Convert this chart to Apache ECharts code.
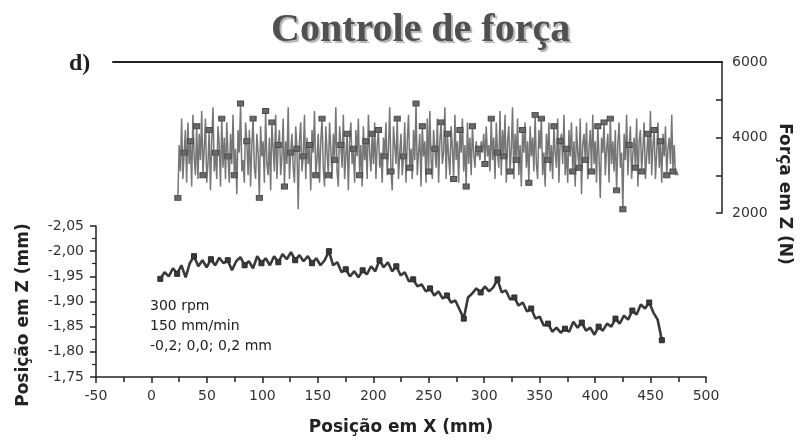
<!DOCTYPE html>
<html>
<head>
<meta charset="utf-8">
<script src="https://cdn.jsdelivr.net/npm/echarts/dist/echarts.min.js"></script>
<style>
  html, body { margin: 0; padding: 0; background: #fff; }
  #main { width: 808px; height: 440px; }
</style>
</head>
<body>
<div id="main"></div>
<script>
// 力 (N) —— 上图，按位置等间距采样
const forceStartX = 23;
const forceStepX = 1.132;
const forceValues = [
  2400, 3800, 3100, 4500, 2900, 3600, 4200, 2800, 4400, 3300, 3900, 2700, 4600, 3500, 3000, 4300, 2900, 4100, 3400, 4700,
  3000, 3700, 4500, 2800, 3300, 4200, 2600, 3900, 4800, 3100, 3600, 2900, 4300, 3800, 2700, 4500, 3200, 4000, 2900, 4400,
  3500, 2800, 4100, 3300, 4600, 3000, 3700, 2500, 4200, 3600, 4900, 3100, 3400, 2800, 4400, 3900, 3000, 4200, 2700, 3800,
  4500, 3200, 2900, 4100, 3600, 2400, 4300, 3500, 3900, 2800, 4700, 3300, 3000, 4000, 2600, 4400, 3700, 3100, 4600, 2900,
  3800, 4200, 3000, 3500, 4500, 2700, 3900, 3300, 4800, 2900, 3600, 4100, 3200, 2800, 4300, 3700, 2100, 3900, 4400, 3100,
  3500, 4600, 2900, 4000, 3300, 3800, 2600, 4200, 3600, 4700, 3000, 3400, 4100, 2800, 3900, 4500, 3200, 2700, 4300, 3600,
  3000, 4400, 3700, 2900, 4100, 3400, 4800, 3100, 2700, 4300, 3800, 3200, 4600, 2900, 3500, 4100, 2600, 3900, 4400, 3300,
  3700, 2800, 4200, 3500, 4500, 3000, 3800, 2700, 4300, 3400, 3900, 2900, 4600, 3600, 3100, 4100, 3300, 4400, 2900, 3800,
  4200, 3200, 3600, 2800, 4000, 3500, 4400, 3000, 3700, 4800, 3100, 2600, 4300, 3800, 3300, 4500, 2900, 3600, 4100, 3000,
  3500, 4400, 2800, 3900, 4600, 3200, 3700, 2900, 4200, 3400, 4900, 3000, 3600, 4100, 2700, 4300, 3500, 3900, 2800, 4500,
  3100, 4700, 3400, 2900, 4200, 3700, 3200, 4500, 2800, 3900, 4400, 3300, 3600, 4800, 2900, 4100, 3500, 3000, 4300, 3700,
  2900, 4600, 3400, 3900, 2800, 4200, 3600, 4500, 3100, 3800, 2700, 4400, 3300, 4000, 3000, 4300, 3600, 3200, 3900, 3500,
  3700, 3400, 3900, 3600, 4100, 3300, 4300, 3500, 3800, 3100, 4500, 3400, 4000, 2900, 4400, 3600, 3200, 4700, 3000, 4200,
  3500, 4600, 2800, 3900, 4300, 3100, 3700, 4800, 2900, 4100, 3400, 4500, 3000, 3800, 2700, 4200, 3600, 4400, 3200, 3900,
  2800, 4300, 3500, 4000, 3100, 4600, 3300, 2900, 4200, 3700, 4500, 3000, 3600, 2700, 4100, 3400, 4400, 3100, 3800, 2900,
  4300, 3600, 3200, 4500, 2800, 3900, 4100, 3300, 4600, 3000, 3700, 2800, 4200, 3500, 4400, 3100, 3900, 2700, 4300, 3600,
  3200, 4500, 2500, 3800, 4100, 3400, 4400, 2900, 3700, 4200, 3100, 4600, 3300, 3900, 2800, 4300, 3500, 2400, 4000, 3600,
  4400, 3000, 3700, 4100, 2800, 4500, 3300, 3900, 3100, 4200, 2600, 3800, 4400, 3200, 3600, 2100, 4100, 3400, 4600, 3000,
  3800, 4300, 2900, 3600, 4000, 3200, 4500, 2700, 3900, 4200, 3100, 3700, 4400, 2900, 3500, 4100, 3300, 4700, 3000, 3800,
  4200, 2900, 3600, 4400, 3200, 3900, 2800, 4100, 3500, 4300, 3000, 3700, 4000, 3300, 4600, 3100, 3800, 3000, 3100, 3000
];

// Z 位置 (mm) —— 下图
const posStartX = 8;
const posStepX = 3.8;
const posValues = [
  -1.945, -1.958, -1.950, -1.966, -1.955, -1.972, -1.948, -1.976, -1.990, -1.970,
  -1.982, -1.968, -1.984, -1.972, -1.987, -1.976, -1.982, -1.962, -1.980, -1.988,
  -1.972, -1.980, -1.966, -1.990, -1.976, -1.986, -1.972, -1.990, -1.978, -1.994,
  -1.984, -1.998, -1.982, -1.992, -1.980, -1.990, -1.976, -1.986, -1.972, -1.982,
  -2.000, -1.972, -1.978, -1.958, -1.964, -1.950, -1.960, -1.948, -1.962, -1.954,
  -1.970, -1.960, -1.982, -1.968, -1.978, -1.960, -1.970, -1.952, -1.958, -1.940,
  -1.944, -1.930, -1.934, -1.920, -1.926, -1.912, -1.920, -1.906, -1.912, -1.898,
  -1.902, -1.884, -1.866, -1.908, -1.916, -1.926, -1.918, -1.930, -1.920, -1.928,
  -1.944, -1.918, -1.922, -1.904, -1.908, -1.892, -1.898, -1.880, -1.886, -1.866,
  -1.870, -1.852, -1.856, -1.840, -1.848, -1.838, -1.846, -1.840, -1.860, -1.848,
  -1.858, -1.842, -1.848, -1.834, -1.850, -1.842, -1.856, -1.850, -1.866, -1.856,
  -1.872, -1.864, -1.882, -1.874, -1.894, -1.886, -1.898, -1.878, -1.864, -1.823
];

// 坐标轴刻度
const xTicks = { min: -50, max: 500, interval: 50 };
const zTicks = { min: -2.05, max: -1.75, interval: 0.05 };
const forceTicks = { min: 2000, max: 6000, interval: 1000, labelEvery: 2000 };

const notes = ['300 rpm', '150 mm/min', '-0,2; 0,0; 0,2 mm'];

const sans = 'DejaVu Sans';
const axisColor = '#222';

const initChart = () => {
  const main = document.getElementById('main');
  const myChart = echarts.init(main);

  const forceData = forceValues.map((v, i) => [forceStartX + i * forceStepX, v]);
  const posData = posValues.map((v, i) => [posStartX + i * posStepX, v]);

  const options = {
    animation: false,
    title: [
      {
        text: 'Controle de força',
        left: 266,
        top: 6,
        textStyle: {
          fontFamily: 'Liberation Serif',
          fontWeight: 'bold',
          fontSize: 40,
          color: '#505050',
          textShadowColor: '#b4b4b4',
          textShadowOffsetX: 2,
          textShadowOffsetY: 2,
          textShadowBlur: 1,
        },
      },
      {
        text: 'd)',
        left: 64,
        top: 47,
        textStyle: {
          fontFamily: 'Liberation Serif',
          fontWeight: 'bold',
          fontSize: 24,
          color: '#1e1e1e',
        },
      },
    ],
    grid: [
      { left: 113, right: 86, top: 62, bottom: 227 }, // 上图
      { left: 96, right: 102, top: 226, bottom: 63 }, // 下图
    ],
    xAxis: [
      {
        gridIndex: 0,
        type: 'value',
        position: 'top',
        min: -35.6,
        max: 514.4,
        axisLine: { show: true, onZero: false, lineStyle: { color: axisColor, width: 2 } },
        axisTick: { show: false },
        axisLabel: { show: false },
        splitLine: { show: false },
      },
      {
        gridIndex: 1,
        type: 'value',
        min: xTicks.min,
        max: xTicks.max,
        interval: xTicks.interval,
        name: 'Posição em X (mm)',
        nameLocation: 'middle',
        nameGap: 42,
        nameTextStyle: { fontFamily: sans, fontWeight: 'bold', fontSize: 17, color: '#222' },
        axisLine: { show: true, onZero: false, lineStyle: { color: axisColor, width: 1.5 } },
        axisTick: { show: true, length: 6, lineStyle: { color: axisColor, width: 1.5 } },
        minorTick: { show: true, splitNumber: 2, length: 5, lineStyle: { color: axisColor, width: 1.5 } },
        axisLabel: { margin: 12, fontFamily: sans, fontSize: 14, color: '#333' },
        splitLine: { show: false },
      },
    ],
    yAxis: [
      {
        gridIndex: 0,
        type: 'value',
        position: 'right',
        min: forceTicks.min,
        max: forceTicks.max,
        interval: forceTicks.interval,
        axisLine: { show: true, onZero: false, lineStyle: { color: axisColor, width: 1.5 } },
        axisTick: { show: true, inside: true, length: 6, lineStyle: { color: axisColor, width: 1.5 } },
        axisLabel: {
          margin: 10,
          fontFamily: sans,
          fontSize: 14,
          color: '#333',
          formatter: (v) => (v % forceTicks.labelEvery === 0 ? String(v) : ''),
        },
        splitLine: { show: false },
      },
      {
        gridIndex: 1,
        type: 'value',
        inverse: true,
        min: zTicks.min,
        max: zTicks.max,
        interval: zTicks.interval,
        axisLine: { show: true, onZero: false, lineStyle: { color: axisColor, width: 1.5 } },
        axisTick: { show: true, length: 6, lineStyle: { color: axisColor, width: 1.5 } },
        minorTick: { show: true, splitNumber: 2, length: 4, lineStyle: { color: axisColor, width: 1.2 } },
        axisLabel: {
          margin: 12,
          fontFamily: sans,
          fontSize: 14,
          color: '#333',
          formatter: (v) => v.toFixed(2).replace('.', ','),
        },
        splitLine: { show: false },
      },
    ],
    graphic: [
      {
        type: 'text',
        x: 24,
        y: 315,
        rotation: Math.PI / 2,
        style: {
          text: 'Posição em Z (mm)',
          fontFamily: sans,
          fontWeight: 'bold',
          fontSize: 17,
          fill: '#222',
          align: 'center',
          verticalAlign: 'middle',
        },
      },
      {
        type: 'text',
        x: 784,
        y: 194,
        rotation: -Math.PI / 2,
        style: {
          text: 'Força em Z (N)',
          fontFamily: sans,
          fontWeight: 'bold',
          fontSize: 17,
          fill: '#222',
          align: 'center',
          verticalAlign: 'middle',
        },
      },
      {
        type: 'text',
        x: 150,
        y: 296,
        style: {
          text: notes.join('\n'),
          fontFamily: sans,
          fontSize: 14,
          lineHeight: 20,
          fill: '#222',
          align: 'left',
          verticalAlign: 'top',
        },
      },
    ],
    series: [
      {
        type: 'line',
        xAxisIndex: 0,
        yAxisIndex: 0,
        data: forceData,
        showAllSymbol: true,
        symbol: 'rect',
        symbolSize: (v, p) => (p.dataIndex % 5 === 0 ? [6, 5] : 0),
        lineStyle: { color: '#767676', width: 1.5 },
        itemStyle: { color: '#6a6a6a', borderColor: '#4a4a4a', borderWidth: 1 },
        emphasis: { disabled: true },
        z: 2,
      },
      {
        type: 'line',
        xAxisIndex: 1,
        yAxisIndex: 1,
        data: posData,
        showAllSymbol: true,
        symbol: 'rect',
        symbolSize: (v, p) => (p.dataIndex % 4 === 0 || p.dataIndex === posValues.length - 1 ? 5 : 0),
        lineStyle: { color: '#3a3a3a', width: 2.6 },
        itemStyle: { color: '#3a3a3a', borderColor: '#2a2a2a', borderWidth: 1 },
        emphasis: { disabled: true },
        z: 2,
      },
    ],
  };
  myChart.setOption(options);
};

initChart();
</script>
</body>
</html>
